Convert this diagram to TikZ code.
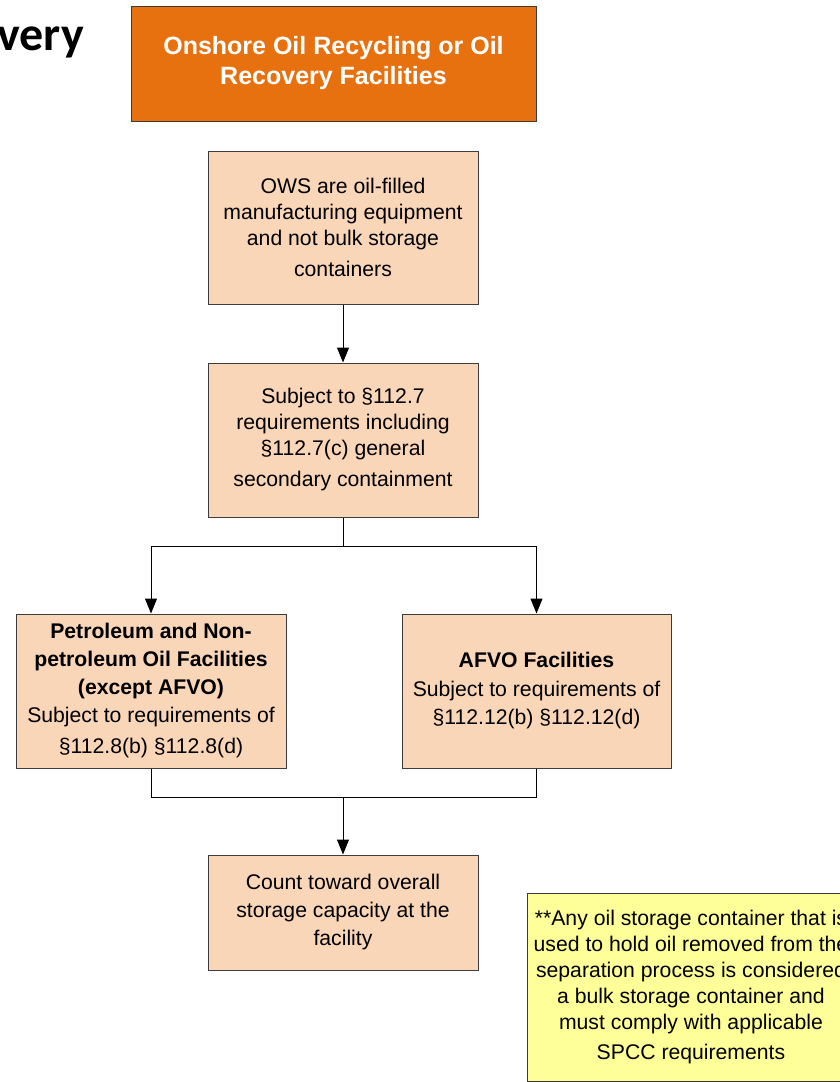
\documentclass[tikz,border=0pt]{standalone}
\usepackage{fontspec}
\setmainfont{Liberation Sans}
\newfontfamily\calib{Carlito}
\usetikzlibrary{arrows.meta}
\definecolor{orangebox}{HTML}{E8710F}
\definecolor{peach}{HTML}{F9D6B8}
\definecolor{noteyellow}{HTML}{FFFF99}
\definecolor{edgegray}{HTML}{3C3C3C}
\tikzset{
  box/.style={draw=edgegray, line width=1pt, fill=peach, align=center, inner sep=0pt,
    minimum width=270pt, font=\fontsize{21.2}{26}\selectfont},
  titlebox/.style={draw=edgegray, line width=1pt, fill=orangebox, align=center, inner sep=0pt,
    text=white, font=\fontsize{25}{30}\selectfont\bfseries},
  notebox/.style={draw=edgegray, line width=1pt, fill=noteyellow, align=center, inner sep=0pt,
    font=\fontsize{21.2}{26}\selectfont},
  conn/.style={line width=1pt, black},
  arr/.style={conn, -{Triangle[width=12pt,length=15pt]}},
}
\begin{document}
\begin{tikzpicture}[x=1pt,y=-1pt]
\useasboundingbox (0,0) rectangle (840,1082);
\clip (0,0) rectangle (840,1082);
\fill[white] (0,0) rectangle (840,1082);
\node[anchor=base east, inner sep=0pt, font=\calib\fontsize{48}{50}\selectfont\bfseries] (ttl) at (84,50) {very};
\node[titlebox, minimum width=405pt, minimum height=115pt] (top) at (333.5,63.5) {Onshore Oil Recycling or Oil\\Recovery Facilities};
\node[box, minimum height=153pt] (b1) at (343,227.5) {OWS are oil-filled\\manufacturing equipment\\and not bulk storage\\[5pt]containers};
\node[box, minimum height=154pt] (b2) at (343,440) {Subject to §112.7\\requirements including\\§112.7(c) general\\[5pt]secondary containment};
\node[box, minimum height=154pt, font=\fontsize{21.2}{28}\selectfont] (lb) at (151,691) {\textbf{Petroleum and Non-}\\\textbf{petroleum Oil Facilities}\\\textbf{(except AFVO)}\\Subject to requirements of\\[3pt]§112.8(b) §112.8(d)};
\node[box, minimum width=269pt, minimum height=154pt, font=\fontsize{21.2}{28.5}\selectfont] (rb) at (536.5,691) {\textbf{AFVO Facilities}\\Subject to requirements of\\§112.12(b) §112.12(d)};
\node[box, minimum height=115pt, font=\fontsize{21.2}{28}\selectfont] (b5) at (343,912.5) {Count toward overall\\storage capacity at the\\facility};
\node[notebox, minimum width=328pt, minimum height=188pt] (note) at (691,987) {**Any oil storage container that is\\used to hold oil removed from the\\separation process is considered\\a bulk storage container and\\must comply with applicable\\[4pt]SPCC requirements};
\coordinate (j1) at (343,546);
\coordinate (j2) at (343,797);
\draw[arr] (b1.south) -- (b2.north);
\draw[conn] (b2.south) -- (j1);
\draw[arr] (j1) -| (lb.north);
\draw[arr] (j1) -| (rb.north);
\draw[conn] (lb.south) |- (j2);
\draw[conn] (rb.south) |- (j2);
\draw[arr] (j2) -- (b5.north);
\end{tikzpicture}
\end{document}
